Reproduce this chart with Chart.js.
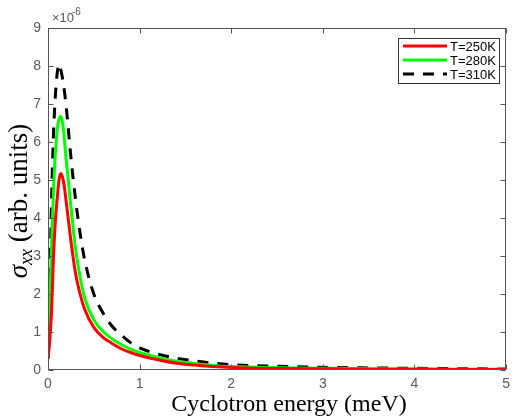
<!DOCTYPE html>
<html>
<head>
<meta charset="utf-8">
<script src="https://cdn.jsdelivr.net/npm/chart.js@4.4.0/dist/chart.umd.min.js"></script>
<style>
  html, body { margin: 0; padding: 0; background: #fff; }
  #chart { display: block; }
</style>
</head>
<body>
<canvas id="chart" width="516" height="419"></canvas>
<script>
// data, sigma values are in units of 1e-6
const energy = [0, 0.02, 0.04, 0.06, 0.08, 0.1, 0.12, 0.14, 0.17, 0.2, 0.25, 0.3, 0.35, 0.4, 0.5, 0.6, 0.7, 0.8, 0.9, 1.0, 1.2, 1.4, 1.6, 1.8, 2.0, 2.5, 3.0, 3.5, 4.0, 4.5, 5.0];
const sigma250 = [0.3, 0.8, 1.6, 3.0, 3.9, 4.5, 5.0, 5.17, 4.95, 4.4, 3.4, 2.55, 2.0, 1.6, 1.12, 0.86, 0.7, 0.56, 0.46, 0.38, 0.27, 0.18, 0.13, 0.09, 0.065, 0.04, 0.03, 0.022, 0.018, 0.015, 0.013];
const sigma280 = [0.5, 1.7, 3.4, 4.7, 5.7, 6.3, 6.6, 6.67, 6.3, 5.5, 4.3, 3.2, 2.45, 1.9, 1.32, 1.02, 0.82, 0.67, 0.55, 0.46, 0.33, 0.23, 0.17, 0.12, 0.09, 0.06, 0.045, 0.035, 0.028, 0.023, 0.02];
const sigma310 = [0.3, 2.3, 4.6, 6.2, 7.2, 7.8, 8.05, 7.9, 7.5, 6.9, 5.6, 4.5, 3.6, 2.9, 2.0, 1.5, 1.15, 0.92, 0.72, 0.58, 0.42, 0.31, 0.24, 0.18, 0.14, 0.1, 0.07, 0.055, 0.045, 0.035, 0.025];
const seriesLabels = ["T=250K", "T=280K", "T=310K"];
const xTicks = [0, 1, 2, 3, 4, 5];
const yTicks = [0, 1, 2, 3, 4, 5, 6, 7, 8, 9];

const tickColor = "#5a5a5a";

function toPoints(ys) {
  return energy.map((x, i) => ({ x: x, y: ys[i] }));
}

// frame, inward ticks, titles and legend drawn like a matlab figure
const matlabFrame = {
  id: "matlabFrame",
  afterDraw(chart) {
    const ctx = chart.ctx;
    const a = chart.chartArea;
    const xs = chart.scales.x;
    const ys = chart.scales.y;
    const L = Math.round(a.left) + 0.5, R = Math.round(a.right) - 0.5;
    const T = Math.round(a.top) + 0.5, B = Math.round(a.bottom) - 0.5;

    ctx.save();
    ctx.strokeStyle = "#555";
    ctx.lineWidth = 1;
    ctx.strokeRect(L, T, R - L, B - T);
    ctx.beginPath();
    xTicks.forEach(v => {
      const px = Math.round(xs.getPixelForValue(v)) + 0.5;
      ctx.moveTo(px, B); ctx.lineTo(px, B - 5);
      ctx.moveTo(px, T); ctx.lineTo(px, T + 5);
    });
    yTicks.forEach(v => {
      const py = Math.round(ys.getPixelForValue(v)) + 0.5;
      ctx.moveTo(L, py); ctx.lineTo(L + 5, py);
      ctx.moveTo(R, py); ctx.lineTo(R - 5, py);
    });
    ctx.stroke();

    // exponent label
    ctx.fillStyle = tickColor;
    ctx.textAlign = "left";
    ctx.textBaseline = "alphabetic";
    ctx.font = "13px 'Liberation Sans', Arial, sans-serif";
    ctx.fillText("\u00d710", 52, 22);
    ctx.font = "10px 'Liberation Sans', Arial, sans-serif";
    ctx.fillText("-6", 72, 15);

    // x title
    ctx.fillStyle = "#000";
    ctx.textAlign = "center";
    ctx.font = "24px 'Liberation Serif', 'Times New Roman', serif";
    ctx.fillText("Cyclotron energy (meV)", 289, 411);

    // y title with subscript
    ctx.save();
    ctx.translate(27, 201);
    ctx.rotate(-Math.PI / 2);
    const serif = "'Liberation Serif', 'Times New Roman', serif";
    const parts = [
      { t: "\u03c3", f: "italic 27px " + serif, dy: 0 },
      { t: "xx", f: "italic 18px " + serif, dy: 5 },
      { t: " (arb. units)", f: "27px " + serif, dy: 0 }
    ];
    let total = 0;
    parts.forEach(p => { ctx.font = p.f; p.w = ctx.measureText(p.t).width; total += p.w; });
    let cx = -total / 2;
    ctx.textAlign = "left";
    parts.forEach(p => {
      ctx.font = p.f;
      ctx.fillText(p.t, cx, p.dy);
      cx += p.w;
    });
    ctx.restore();

    // legend
    const lx = 398.5, ly = 38.5, lw = 101, lh = 45;
    ctx.fillStyle = "#fff";
    ctx.fillRect(lx, ly, lw, lh);
    ctx.strokeStyle = "#333";
    ctx.lineWidth = 1;
    ctx.strokeRect(lx, ly, lw, lh);
    ctx.font = "13px 'Liberation Sans', Arial, sans-serif";
    ctx.textAlign = "left";
    ctx.textBaseline = "middle";
    chart.data.datasets.forEach((ds, i) => {
      const yy = 46 + i * 14;
      ctx.strokeStyle = ds.borderColor;
      ctx.lineWidth = 3;
      ctx.setLineDash(ds.borderDash || []);
      ctx.beginPath();
      ctx.moveTo(403, yy);
      ctx.lineTo(447, yy);
      ctx.stroke();
      ctx.setLineDash([]);
      ctx.fillStyle = "#000";
      ctx.fillText(ds.label, 450, yy + 1);
    });
    ctx.restore();
  }
};

window.addEventListener("DOMContentLoaded", () => {
  const chartCanvas = document.getElementById("chart");
  const lineStyle = {
    pointRadius: 0,
    borderWidth: 3,
    fill: false,
    cubicInterpolationMode: "monotone",
    borderJoinStyle: "round"
  };

  new Chart(chartCanvas, {
    type: "line",
    data: {
      datasets: [
        { ...lineStyle, label: seriesLabels[0], data: toPoints(sigma250), borderColor: "#ff0000" },
        { ...lineStyle, label: seriesLabels[1], data: toPoints(sigma280), borderColor: "#00ff00" },
        { ...lineStyle, label: seriesLabels[2], data: toPoints(sigma310), borderColor: "#000000", borderDash: [11, 9] }
      ]
    },
    options: {
      responsive: false,
      animation: false,
      devicePixelRatio: 1,
      layout: { padding: { left: 1, top: 28, right: 4, bottom: 0 } },
      plugins: {
        legend: { display: false },
        tooltip: { enabled: false }
      },
      scales: {
        x: {
          type: "linear",
          min: 0,
          max: 5,
          afterBuildTicks: (s) => { s.ticks = xTicks.map(v => ({ value: v })); },
          afterFit: (s) => { s.height = 49; },
          grid: { display: false, drawTicks: false },
          border: { display: false },
          ticks: {
            padding: 6,
            color: tickColor,
            maxRotation: 0,
            font: { family: "'Liberation Sans', Arial, sans-serif", size: 14 }
          }
        },
        y: {
          type: "linear",
          min: 0,
          max: 9,
          afterBuildTicks: (s) => { s.ticks = yTicks.map(v => ({ value: v })); },
          afterFit: (s) => { s.width = 47; },
          grid: { display: false, drawTicks: false },
          border: { display: false },
          ticks: {
            padding: 7,
            color: tickColor,
            font: { family: "'Liberation Sans', Arial, sans-serif", size: 14 }
          }
        }
      }
    },
    plugins: [matlabFrame]
  });
});
</script>
</body>
</html>
